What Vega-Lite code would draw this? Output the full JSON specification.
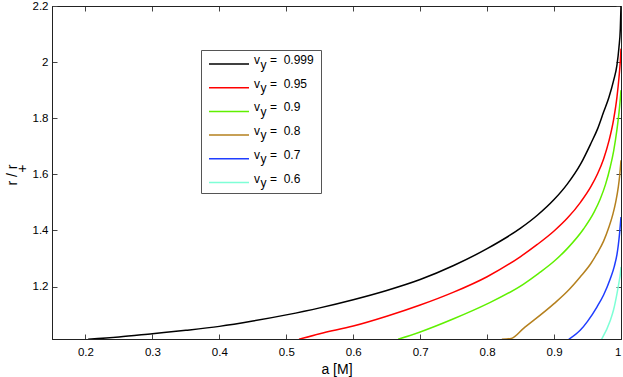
{
  "$schema": "https://vega.github.io/schema/vega-lite/v6.json",
  "width": 569,
  "height": 333,
  "autosize": {"type": "none"},
  "padding": {"left": 52, "top": 6, "right": 2, "bottom": 38},
  "background": "white",
  "config": {
    "font": "Liberation Sans",
    "view": {"stroke": "black", "strokeWidth": 1},
    "axis": {"labelFont": "Liberation Sans", "titleFont": "Liberation Sans", "labelFontSize": 11.5, "labelColor": "black", "titleColor": "black", "titleFontWeight": "normal", "titleFontSize": 14, "domainColor": "#222", "tickColor": "#444", "grid": false}
  },
  "data": {"values": [
    {"a": 0.204, "r": 1.012, "vy": "0.999"},
    {"a": 0.25, "r": 1.02, "vy": "0.999"},
    {"a": 0.3, "r": 1.032, "vy": "0.999"},
    {"a": 0.35, "r": 1.044, "vy": "0.999"},
    {"a": 0.4, "r": 1.058, "vy": "0.999"},
    {"a": 0.45, "r": 1.077, "vy": "0.999"},
    {"a": 0.5, "r": 1.099, "vy": "0.999"},
    {"a": 0.55, "r": 1.124, "vy": "0.999"},
    {"a": 0.6, "r": 1.153, "vy": "0.999"},
    {"a": 0.65, "r": 1.186, "vy": "0.999"},
    {"a": 0.7, "r": 1.225, "vy": "0.999"},
    {"a": 0.75, "r": 1.275, "vy": "0.999"},
    {"a": 0.8, "r": 1.335, "vy": "0.999"},
    {"a": 0.85, "r": 1.408, "vy": "0.999"},
    {"a": 0.875, "r": 1.454, "vy": "0.999"},
    {"a": 0.9, "r": 1.51, "vy": "0.999"},
    {"a": 0.92, "r": 1.566, "vy": "0.999"},
    {"a": 0.94, "r": 1.638, "vy": "0.999"},
    {"a": 0.955, "r": 1.71, "vy": "0.999"},
    {"a": 0.965, "r": 1.762, "vy": "0.999"},
    {"a": 0.974, "r": 1.822, "vy": "0.999"},
    {"a": 0.982, "r": 1.875, "vy": "0.999"},
    {"a": 0.989, "r": 1.935, "vy": "0.999"},
    {"a": 0.994, "r": 1.99, "vy": "0.999"},
    {"a": 0.997, "r": 2.054, "vy": "0.999"},
    {"a": 0.999, "r": 2.12, "vy": "0.999"},
    {"a": 1.0, "r": 2.2, "vy": "0.999"},
    {"a": 0.519, "r": 1.012, "vy": "0.95"},
    {"a": 0.55, "r": 1.032, "vy": "0.95"},
    {"a": 0.6, "r": 1.059, "vy": "0.95"},
    {"a": 0.65, "r": 1.094, "vy": "0.95"},
    {"a": 0.7, "r": 1.134, "vy": "0.95"},
    {"a": 0.75, "r": 1.18, "vy": "0.95"},
    {"a": 0.8, "r": 1.235, "vy": "0.95"},
    {"a": 0.85, "r": 1.307, "vy": "0.95"},
    {"a": 0.875, "r": 1.35, "vy": "0.95"},
    {"a": 0.9, "r": 1.398, "vy": "0.95"},
    {"a": 0.92, "r": 1.444, "vy": "0.95"},
    {"a": 0.94, "r": 1.502, "vy": "0.95"},
    {"a": 0.955, "r": 1.556, "vy": "0.95"},
    {"a": 0.965, "r": 1.602, "vy": "0.95"},
    {"a": 0.974, "r": 1.655, "vy": "0.95"},
    {"a": 0.982, "r": 1.719, "vy": "0.95"},
    {"a": 0.989, "r": 1.796, "vy": "0.95"},
    {"a": 0.994, "r": 1.876, "vy": "0.95"},
    {"a": 0.997, "r": 1.945, "vy": "0.95"},
    {"a": 0.999, "r": 2.005, "vy": "0.95"},
    {"a": 1.0, "r": 2.048, "vy": "0.95"},
    {"a": 0.667, "r": 1.012, "vy": "0.9"},
    {"a": 0.7, "r": 1.038, "vy": "0.9"},
    {"a": 0.75, "r": 1.085, "vy": "0.9"},
    {"a": 0.8, "r": 1.138, "vy": "0.9"},
    {"a": 0.854, "r": 1.208, "vy": "0.9"},
    {"a": 0.877, "r": 1.247, "vy": "0.9"},
    {"a": 0.9, "r": 1.29, "vy": "0.9"},
    {"a": 0.92, "r": 1.336, "vy": "0.9"},
    {"a": 0.944, "r": 1.405, "vy": "0.9"},
    {"a": 0.96, "r": 1.466, "vy": "0.9"},
    {"a": 0.969, "r": 1.512, "vy": "0.9"},
    {"a": 0.977, "r": 1.565, "vy": "0.9"},
    {"a": 0.984, "r": 1.627, "vy": "0.9"},
    {"a": 0.989, "r": 1.683, "vy": "0.9"},
    {"a": 0.994, "r": 1.76, "vy": "0.9"},
    {"a": 0.997, "r": 1.82, "vy": "0.9"},
    {"a": 0.999, "r": 1.87, "vy": "0.9"},
    {"a": 1.0, "r": 1.9, "vy": "0.9"},
    {"a": 0.822, "r": 1.012, "vy": "0.8"},
    {"a": 0.836, "r": 1.015, "vy": "0.8"},
    {"a": 0.854, "r": 1.05, "vy": "0.8"},
    {"a": 0.9, "r": 1.139, "vy": "0.8"},
    {"a": 0.92, "r": 1.183, "vy": "0.8"},
    {"a": 0.939, "r": 1.234, "vy": "0.8"},
    {"a": 0.955, "r": 1.282, "vy": "0.8"},
    {"a": 0.964, "r": 1.317, "vy": "0.8"},
    {"a": 0.974, "r": 1.362, "vy": "0.8"},
    {"a": 0.982, "r": 1.412, "vy": "0.8"},
    {"a": 0.988, "r": 1.459, "vy": "0.8"},
    {"a": 0.992, "r": 1.5, "vy": "0.8"},
    {"a": 0.996, "r": 1.555, "vy": "0.8"},
    {"a": 0.998, "r": 1.595, "vy": "0.8"},
    {"a": 1.0, "r": 1.65, "vy": "0.8"},
    {"a": 0.922, "r": 1.012, "vy": "0.7"},
    {"a": 0.939, "r": 1.044, "vy": "0.7"},
    {"a": 0.95, "r": 1.076, "vy": "0.7"},
    {"a": 0.964, "r": 1.127, "vy": "0.7"},
    {"a": 0.974, "r": 1.17, "vy": "0.7"},
    {"a": 0.984, "r": 1.228, "vy": "0.7"},
    {"a": 0.99, "r": 1.272, "vy": "0.7"},
    {"a": 0.994, "r": 1.315, "vy": "0.7"},
    {"a": 0.996, "r": 1.348, "vy": "0.7"},
    {"a": 0.998, "r": 1.392, "vy": "0.7"},
    {"a": 1.0, "r": 1.448, "vy": "0.7"},
    {"a": 0.971, "r": 1.012, "vy": "0.6"},
    {"a": 0.984, "r": 1.079, "vy": "0.6"},
    {"a": 0.989, "r": 1.118, "vy": "0.6"},
    {"a": 0.994, "r": 1.175, "vy": "0.6"},
    {"a": 0.997, "r": 1.215, "vy": "0.6"},
    {"a": 0.999, "r": 1.245, "vy": "0.6"},
    {"a": 1.0, "r": 1.27, "vy": "0.6"}
  ]},
  "layer": [
    {
      "mark": {"type": "line", "strokeWidth": 1.5, "clip": true, "interpolate": "monotone"},
      "encoding": {
        "x": {"field": "a", "type": "quantitative", "scale": {"domain": [0.15, 1], "nice": false, "zero": false},
              "axis": {"orient": "bottom", "title": "a [M]", "values": [0.2, 0.3, 0.4, 0.5, 0.6, 0.7, 0.8, 0.9, 1], "format": ".1~f", "tickSize": -5, "labelPadding": 12, "titlePadding": 5}},
        "y": {"field": "r", "type": "quantitative", "scale": {"domain": [1.013, 2.2], "nice": false, "zero": false},
              "axis": {"orient": "left", "title": ["r / r", "+"], "titleLineHeight": 9.7, "titleAlign": "right", "titleAngle": -90, "titleBaseline": "middle", "titleX": -39.2, "titleY": 158,
                       "values": [1.2, 1.4, 1.6, 1.8, 2, 2.2], "format": ".1~f", "tickSize": -5, "labelPadding": 9}},
        "color": {"field": "vy", "type": "nominal",
                  "scale": {"domain": ["0.999", "0.95", "0.9", "0.8", "0.7", "0.6"], "range": ["#000000", "#ff0000", "#5ff000", "#b5801e", "#1f3dff", "#7effd6"]},
                  "legend": {"title": null, "orient": "none", "legendX": 149, "legendY": 44, "symbolType": "M-1,0H5.667", "symbolSize": 144, "symbolStrokeWidth": 1.5,
                             "labelExpr": "'v\u00a0\u00a0\u00a0=\u00a0\u00a0' + datum.label", "labelFontSize": 12, "labelColor": "black", "labelFont": "Liberation Sans", "labelBaseline": "alphabetic",
                             "labelOffset": 32, "padding": 7, "rowPadding": 10.7, "strokeColor": "#555", "labelLimit": 200}},
        "order": {"field": "a", "type": "quantitative"}
      }
    },
    {
      "mark": {"type": "line", "opacity": 0, "strokeWidth": 1.5},
      "encoding": {
        "x": {"field": "a", "type": "quantitative", "axis": {"orient": "top", "title": null, "labels": false, "values": [0.2, 0.3, 0.4, 0.5, 0.6, 0.7, 0.8, 0.9, 1], "tickSize": -5}},
        "y": {"field": "r", "type": "quantitative", "axis": {"orient": "right", "title": null, "labels": false, "values": [1.2, 1.4, 1.6, 1.8, 2, 2.2], "tickSize": -5}},
        "strokeDash": {"field": "vy", "type": "nominal", "scale": {"domain": ["0.6", "0.7", "0.8", "0.9", "0.95", "0.999"]},
                       "legend": {"title": null, "orient": "none", "legendX": 155.5, "legendY": 48.5, "symbolType": "M-1,0H5.667", "symbolSize": 144, "symbolOpacity": 0, "symbolStrokeWidth": 1.5,
                                  "labelExpr": "'y'", "labelFontSize": 12, "labelColor": "black", "labelFont": "Liberation Sans", "labelBaseline": "alphabetic",
                                  "labelOffset": 32, "padding": 7, "rowPadding": 11.6}}
      }
    }
  ],
  "resolve": {"axis": {"x": "independent", "y": "independent"}}
}
